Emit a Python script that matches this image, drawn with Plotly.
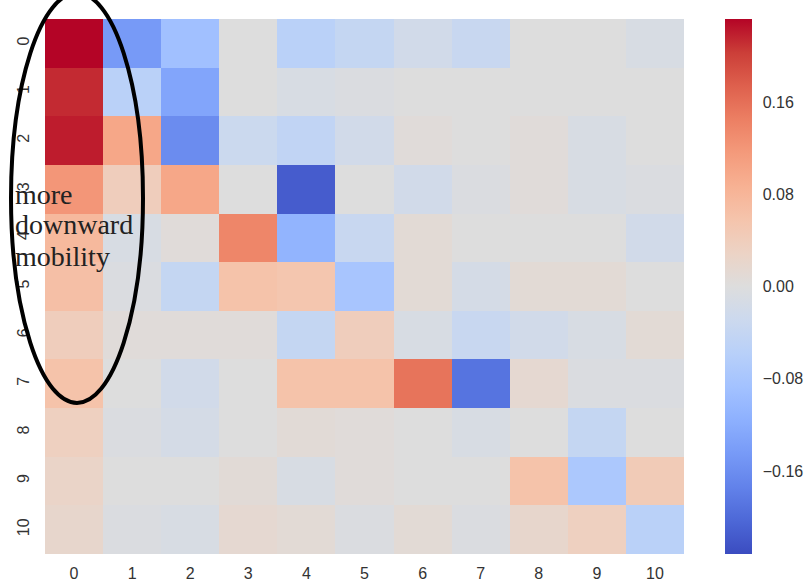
import plotly.graph_objects as go

categories = list(range(11))
tick_labels = [str(c) for c in categories]

row0 = [0.232, -0.145, -0.090, 0.000, -0.055, -0.040, -0.020, -0.035, 0.000, 0.000, -0.010]
row1 = [0.213, -0.055, -0.130, 0.000, -0.010, -0.005, 0.000, 0.000, 0.000, 0.000, 0.000]
row2 = [0.220, 0.100, -0.162, -0.030, -0.045, -0.020, 0.005, 0.000, 0.005, -0.010, 0.000]
row3 = [0.120, 0.040, 0.100, 0.000, -0.215, 0.000, -0.020, -0.005, 0.005, -0.010, -0.005]
row4 = [0.075, -0.010, 0.005, 0.138, -0.110, -0.035, 0.010, 0.000, 0.000, 0.000, -0.020]
row5 = [0.065, -0.005, -0.040, 0.060, 0.055, -0.080, 0.010, -0.015, 0.010, 0.010, 0.000]
row6 = [0.040, 0.005, 0.005, 0.005, -0.040, 0.040, -0.010, -0.035, -0.020, -0.010, 0.010]
row7 = [0.060, 0.000, -0.020, 0.000, 0.060, 0.060, 0.155, -0.190, 0.015, -0.005, -0.005]
row8 = [0.035, -0.005, -0.015, 0.000, 0.008, 0.005, 0.000, -0.010, 0.000, -0.040, 0.000]
row9 = [0.025, 0.000, 0.000, 0.008, -0.010, 0.005, 0.000, 0.000, 0.060, -0.075, 0.045]
row10 = [0.020, -0.005, -0.010, 0.015, 0.010, -0.005, 0.010, -0.005, 0.020, 0.035, -0.055]

values = [row0, row1, row2, row3, row4, row5, row6, row7, row8, row9, row10]

cbar_ticks = [-0.16, -0.08, 0.0, 0.08, 0.16]
cbar_text = ["\u22120.16", "\u22120.08", "0.00", "0.08", "0.16"]

coolwarm = [
    [0.0, "rgb(59,76,192)"], [0.0625, "rgb(77,104,215)"], [0.125, "rgb(98,130,234)"],
    [0.1875, "rgb(119,154,247)"], [0.25, "rgb(141,176,254)"], [0.3125, "rgb(163,194,255)"],
    [0.375, "rgb(184,208,249)"], [0.4375, "rgb(204,217,238)"], [0.5, "rgb(221,221,221)"],
    [0.5625, "rgb(236,211,197)"], [0.625, "rgb(245,196,172)"], [0.6875, "rgb(247,177,147)"],
    [0.75, "rgb(244,154,123)"], [0.8125, "rgb(236,127,99)"], [0.875, "rgb(222,96,77)"],
    [0.9375, "rgb(203,62,56)"], [1.0, "rgb(180,4,38)"],
]

zlim = 0.232

W, H = 810, 582
L, R, T, B = 45, 126, 19, 28
pw, ph = W - L - R, H - T - B

def px(xp):
    return (xp - L) / pw

def py(yp):
    return (H - B - yp) / ph

fig = go.Figure(go.Heatmap(
    z=values, x=categories, y=categories,
    colorscale=coolwarm, zmin=-zlim, zmax=zlim,
    colorbar=dict(
        x=px(725), xanchor="left", xpad=0, ypad=0,
        y=0.5, yanchor="middle",
        len=1.0, lenmode="fraction", thickness=27, outlinewidth=0,
        tickvals=cbar_ticks, ticktext=cbar_text,
        ticks="outside", ticklen=8, tickcolor="rgba(0,0,0,0)",
        tickfont=dict(family="Liberation Sans, Arial", size=16, color="#333333"),
    ),
))

fig.update_layout(
    width=W, height=H,
    margin=dict(l=L, r=R, t=T, b=B, autoexpand=False),
    paper_bgcolor="white", plot_bgcolor="white",
    xaxis=dict(tickmode="array", tickvals=categories, ticktext=tick_labels,
               ticks="outside", ticklen=5, tickcolor="rgba(0,0,0,0)",
               showgrid=False, zeroline=False, showline=False,
               tickfont=dict(family="Liberation Sans, Arial", size=16, color="#333333")),
    yaxis=dict(tickmode="array", tickvals=categories, ticktext=tick_labels,
               autorange="reversed", tickangle=-90,
               ticks="outside", ticklen=9, tickcolor="rgba(0,0,0,0)",
               showgrid=False, zeroline=False, showline=False,
               tickfont=dict(family="Liberation Sans, Arial", size=16, color="#333333")),
)

fig.add_shape(type="circle", xref="paper", yref="paper",
              x0=px(11), x1=px(143), y0=py(403), y1=py(-7),
              line=dict(color="black", width=4), layer="above")

for txt, yb in [("more", 194), ("downward", 225), ("mobility", 256)]:
    fig.add_annotation(text=txt, xref="paper", yref="paper", x=px(13), y=py(yb),
                       xanchor="left", yanchor="middle", showarrow=False,
                       font=dict(family="Liberation Serif, Times New Roman", size=28, color="#222222"))

fig.write_html("out.html", config={"displayModeBar": False},
               post_script="document.body.style.margin='0';")
